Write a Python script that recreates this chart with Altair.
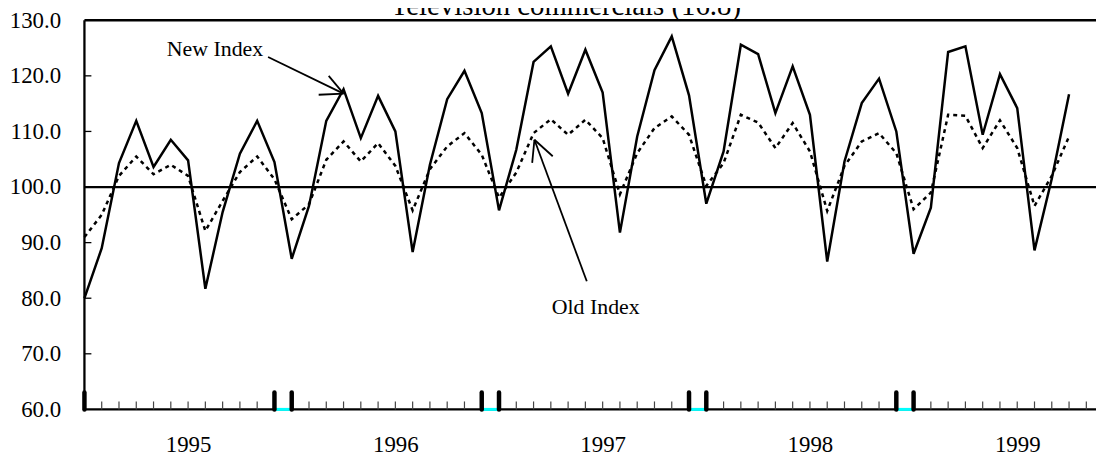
import altair as alt
import pandas as pd

# ---- data (monthly, Jan 1995 = index 0) ----
years = [1995, 1996, 1997, 1998, 1999]
new_index = [80.0, 89.0, 104.3, 111.9, 103.6, 108.5, 104.8, 81.7, 95.5, 106.0, 111.9, 104.5,
             87.1, 96.6, 111.9, 117.6, 108.8, 116.4, 110.0, 88.3, 104.0, 115.8, 120.9, 113.3,
             95.8, 106.7, 122.5, 125.3, 116.8, 124.7, 117.0, 91.8, 109.1, 121.0, 127.1, 116.5,
             97.0, 106.4, 125.6, 123.9, 113.3, 121.7, 113.0, 86.6, 104.6, 115.1, 119.5, 110.0,
             88.0, 96.3, 124.3, 125.3, 109.4, 120.3, 114.2, 88.6, 101.5, 116.7]
old_index = [91.0, 95.0, 102.0, 105.5, 102.3, 104.0, 102.0, 92.1, 97.5, 102.7, 105.5, 101.4,
             94.2, 96.9, 104.9, 108.2, 104.6, 107.9, 103.8, 95.8, 103.2, 107.3, 109.7, 105.8,
             98.1, 102.6, 109.7, 112.2, 109.4, 112.1, 108.8, 98.7, 106.1, 110.6, 112.7, 109.4,
             100.2, 104.3, 113.0, 111.6, 107.0, 111.5, 106.4, 95.7, 103.8, 108.2, 109.7, 106.1,
             96.0, 99.0, 113.0, 112.8, 107.0, 112.0, 107.0, 96.6, 102.0, 109.1]
y_ticks = [60, 70, 80, 90, 100, 110, 120, 130]
year_label_pos = [6, 18, 30, 42, 54]
month_ticks = list(range(0, 59))
year_edge_ticks = [0, 11, 12, 23, 24, 35, 36, 47, 48]
gap_start = [11, 23, 35, 47]
gap_end = [12, 24, 36, 48]
title_text = "Television commercials (16.8)"

# annotations (data units)
ann_labels = ["New Index", "Old Index"]
ann_x = [7.56, 29.6]
ann_y = [124.8, 78.4]
arrow_x1 = [10.63, 15.0, 15.0, 29.08, 26.05, 26.05]
arrow_y1 = [123.4, 116.8, 116.8, 83.04, 108.5, 108.5]
arrow_x2 = [15.0, 14.14, 13.56, 26.05, 25.92, 27.11]
arrow_y2 = [116.8, 120.0, 116.6, 108.5, 104.34, 105.54]

W, H = 1019, 392
FONT = "Liberation Serif"
xs = alt.Scale(domain=[0, 58.56], nice=False, zero=False)
ys = alt.Scale(domain=[60, 130], nice=False, zero=False)

df_new = pd.DataFrame({"idx": list(range(len(new_index))), "value": new_index})
df_old = pd.DataFrame({"idx": list(range(len(old_index))), "value": old_index})

x_axis = alt.Axis(values=year_label_pos, labelExpr=f"{years}[floor(datum.value/12)]",
                  domain=False, ticks=False, tickSize=0, grid=False, labelFont=FONT,
                  labelFontSize=23, labelColor="black", labelPadding=24, title=None,
                  labelFlush=False)
y_axis = alt.Axis(values=y_ticks, format=".1f", domain=False, ticks=False, tickSize=0,
                  grid=False, labelFont=FONT, labelFontSize=23, labelColor="black",
                  labelPadding=24, title=None)

new_line = alt.Chart(df_new).mark_line(color="black", strokeWidth=2.5).encode(
    x=alt.X("idx:Q", scale=xs, axis=x_axis),
    y=alt.Y("value:Q", scale=ys, axis=y_axis),
)
old_line = alt.Chart(df_old).mark_line(color="black", strokeWidth=2.5, strokeDash=[4, 4]).encode(
    x=alt.X("idx:Q", scale=xs, axis=x_axis),
    y=alt.Y("value:Q", scale=ys, axis=y_axis),
)

hrules = alt.Chart(pd.DataFrame({"y": [130, 100, 60]})).mark_rule(
    color="black", strokeWidth=2.3).encode(y=alt.Y("y:Q", scale=ys, axis=y_axis))
left_rule = alt.Chart(pd.DataFrame({"x": [0]})).mark_rule(
    color="black", strokeWidth=2.3).encode(x=alt.X("x:Q", scale=xs, axis=x_axis))
ytick_rules = alt.Chart(pd.DataFrame({"y": [v for v in y_ticks if v not in (60, 100, 130)]})).mark_rule(
    color="black", strokeWidth=1.3).encode(
    y=alt.Y("y:Q", scale=ys, axis=y_axis), x=alt.value(0), x2=alt.value(7))
month_rules = alt.Chart(pd.DataFrame({"x": month_ticks})).mark_rule(
    color="#444444", strokeWidth=1.2).encode(
    x=alt.X("x:Q", scale=xs, axis=x_axis), y=alt.value(H - 8), y2=alt.value(H))
gap_rules = alt.Chart(pd.DataFrame({"x": gap_start, "x2": gap_end, "y": [60] * len(gap_start)})).mark_rule(
    color="#00FFFF", strokeWidth=3).encode(
    x=alt.X("x:Q", scale=xs, axis=x_axis), x2="x2:Q", y=alt.Y("y:Q", scale=ys, axis=y_axis))
edge_rules = alt.Chart(pd.DataFrame({"x": year_edge_ticks})).mark_rule(
    color="black", strokeWidth=4.5, strokeCap="round").encode(
    x=alt.X("x:Q", scale=xs, axis=x_axis), y=alt.value(H - 17), y2=alt.value(H))

arrows = alt.Chart(pd.DataFrame({"x1": arrow_x1, "y1": arrow_y1, "x2": arrow_x2, "y2": arrow_y2})).mark_rule(
    color="black", strokeWidth=1.8).encode(
    x=alt.X("x1:Q", scale=xs, axis=x_axis), y=alt.Y("y1:Q", scale=ys, axis=y_axis), x2="x2:Q", y2="y2:Q")
ann_text = alt.Chart(pd.DataFrame({"x": ann_x, "y": ann_y, "t": ann_labels})).mark_text(
    font=FONT, fontSize=22, color="black", align="center", baseline="middle").encode(
    x=alt.X("x:Q", scale=xs, axis=x_axis), y=alt.Y("y:Q", scale=ys, axis=y_axis), text="t:N")
title = alt.Chart(pd.DataFrame({"x": [27.87], "t": [title_text]})).mark_text(
    font=FONT, fontSize=29, color="black", align="center", baseline="alphabetic").encode(
    x=alt.X("x:Q", scale=xs, axis=x_axis), y=alt.value(-5.5), text="t:N")

chart = alt.layer(
    new_line, old_line, hrules, left_rule, ytick_rules, month_rules, gap_rules, edge_rules,
    arrows, ann_text, title
).properties(
    width=W, height=H,
    padding={"left": 77, "top": 10.7, "right": 0, "bottom": 47},
    autosize=alt.AutoSizeParams(type="none"),
    background="white",
).configure_view(stroke=None).configure_axis(
    labelFont=FONT, labelColor="black"
).configure_text(font=FONT)

chart.save("out.html", embed_options={"renderer": "svg", "actions": False})
